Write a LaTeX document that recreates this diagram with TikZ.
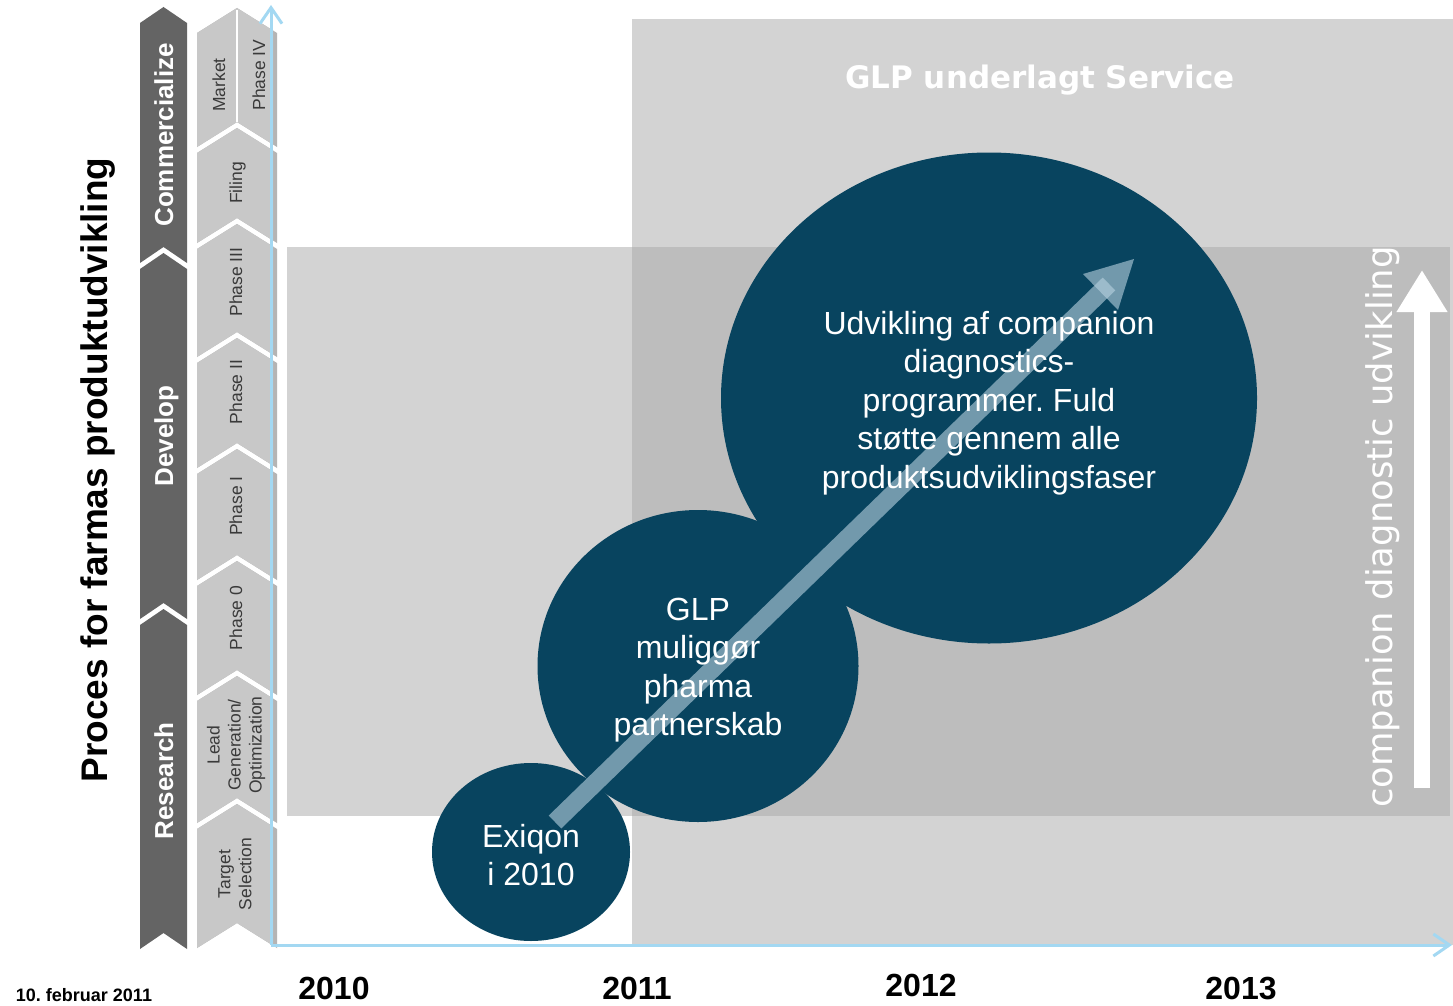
\documentclass[tikz,border=0pt]{standalone}
\usepackage{fontspec}
\setmainfont{Liberation Sans}
\newfontfamily\dvsans{DejaVu Sans}
\usetikzlibrary{shapes.geometric,arrows.meta}
\definecolor{navy}{HTML}{08445F}
\definecolor{lgray}{HTML}{D3D3D3}
\definecolor{mgray}{HTML}{BDBDBD}
\definecolor{dcol}{HTML}{646464}
\definecolor{lcol}{HTML}{C8C8C8}
\definecolor{lcoledge}{HTML}{B4B4B4}
\definecolor{axisblue}{HTML}{A3D8F2}
\definecolor{arrowlite}{HTML}{B9D3E0}
\definecolor{phasetext}{HTML}{3A3A3A}
\newcommand\chevblock[6]{\fill[#6] (#1,#3+#5) -- ({(#1+#2)/2},#3) -- (#2,#3+#5) -- (#2,#4+#5) -- ({(#1+#2)/2},#4) -- (#1,#4+#5) -- cycle;}
\frenchspacing
\begin{document}
\begin{tikzpicture}[x=1pt,y=-1pt,
  blob/.style={ellipse, fill=navy, inner sep=0pt},
  blobtext/.style={text=white, align=center, font=\fontsize{32}{38.5}\selectfont},
  darkchev/.style={fill=dcol},
  lightchev/.style={fill=lcol},
  stagelabel/.style={rotate=90, anchor=base, text=white, font=\bfseries\fontsize{26}{30}\selectfont},
  phaselabel/.style={rotate=90, text=phasetext, align=center, font=\fontsize{17.5}{21}\selectfont},
  yearlabel/.style={font=\bfseries\fontsize{32}{36}\selectfont},
  axisline/.style={draw=axisblue, line width=3pt, -{Straight Barb[length=16pt,width=22pt]}}
]
\useasboundingbox[fill=white] (0,0) rectangle (1453,1006);

% background panels
\fill[lgray] (632,19) rectangle (1453,945);
\fill[lgray] (287,247) rectangle (1450,816);
\fill[mgray] (632,247) rectangle (1450,816);

\node[anchor=base, text=white, font=\dvsans\bfseries\fontsize{31}{34}\selectfont] (glp) at (1040,89) {GLP underlagt Service};

% circles
\node[blob, minimum width=536, minimum height=491] (big) at (989,398) {};
\node[blob, minimum width=321, minimum height=312] (mid) at (698,666) {};
\node[blob, minimum width=198, minimum height=178] (small) at (531,852) {};

% diagonal arrow
\coordinate (ash0) at (555,822);
\coordinate (ash1) at (1109,284);
\coordinate (atip) at (1134,259);
\coordinate (abl) at (1083,274);
\coordinate (abr) at (1118,310);
\draw[arrowlite, opacity=0.6, line width=18] (ash0) -- (ash1);
\fill[arrowlite, opacity=0.6] (atip) -- (abl) -- (abr) -- cycle;

\node[blobtext] (bigtxt) at (989,403) {Udvikling af companion\\diagnostics-\\programmer. Fuld\\støtte gennem alle\\produktsudviklingsfaser};
\node[blobtext] (midtxt) at (698,670) {GLP\\muliggør\\pharma\\partnerskab};
\node[blobtext] (smalltxt) at (531,855) {Exiqon\\i 2010};

% right white arrow and label
\coordinate (wa0) at (1422,788);
\coordinate (wa1) at (1422,270);
\draw[white, line width=16, -{Triangle[length=42pt,width=48pt]}] (wa0) -- (wa1);
\node[rotate=90, anchor=base, text=white, font=\dvsans\fontsize{35.4}{40}\selectfont] (cdu) at (1392,527) {companion diagnostic udvikling};

% dark stage column
\chevblock{140}{187}{7}{247}{16}{darkchev}
\chevblock{140}{187}{253}{603}{16}{darkchev}
\chevblock{140}{187}{609}{933}{16}{darkchev}
\node[stagelabel] (comm) at (173,135) {Commercialize};
\node[stagelabel] (dev) at (173,436) {Develop};
\node[stagelabel] (res) at (173,781) {Research};

% light phase column (with darker right edge)
\chevblock{197}{277}{8}{122}{25}{lcoledge}
\chevblock{197}{277}{128}{218}{25}{lcoledge}
\chevblock{197}{277}{224}{332}{25}{lcoledge}
\chevblock{197}{277}{338}{443}{25}{lcoledge}
\chevblock{197}{277}{449}{555}{25}{lcoledge}
\chevblock{197}{277}{561}{670}{25}{lcoledge}
\chevblock{197}{277}{676}{798}{25}{lcoledge}
\chevblock{197}{277}{804}{923}{25}{lcoledge}
\begin{scope}
\clip (190,0) rectangle (273,1006);
\chevblock{197}{277}{8}{122}{25}{lightchev}
\chevblock{197}{277}{128}{218}{25}{lightchev}
\chevblock{197}{277}{224}{332}{25}{lightchev}
\chevblock{197}{277}{338}{443}{25}{lightchev}
\chevblock{197}{277}{449}{555}{25}{lightchev}
\chevblock{197}{277}{561}{670}{25}{lightchev}
\chevblock{197}{277}{676}{798}{25}{lightchev}
\chevblock{197}{277}{804}{923}{25}{lightchev}
\end{scope}
\draw[white, line width=2] (237,10) -- (237,122);

\node[phaselabel, anchor=base] (market) at (225,85) {Market};
\node[phaselabel, anchor=base] (p4) at (265,75) {Phase IV};
\node[phaselabel, anchor=base] (filing) at (242,183) {Filing};
\node[phaselabel, anchor=base] (p3) at (242,282) {Phase III};
\node[phaselabel, anchor=base] (p2) at (242,392) {Phase II};
\node[phaselabel, anchor=base] (p1) at (242,506) {Phase I};
\node[phaselabel, anchor=base] (p0) at (242,618) {Phase 0};
\node[phaselabel] (lead) at (236,745) {Lead\\Generation/\\Optimization};
\node[phaselabel] (target) at (235,874) {Target\\Selection};

% axes
\coordinate (origin) at (271,945);
\coordinate (ytop) at (271,5);
\coordinate (xend) at (1452,945);
\draw[axisline] (origin) -- (ytop);
\draw[axisline] (origin) -- (xend);

% title and footer
\node[rotate=90, anchor=base, font=\bfseries\fontsize{37}{40}\selectfont] (title) at (107,470) {Proces for farmas produktudvikling};
\node[font=\bfseries\fontsize{18}{20}\selectfont] (date) at (84,995) {10. februar 2011};
\node[yearlabel] (y2010) at (334,988) {2010};
\node[yearlabel] (y2011) at (637,988) {2011};
\node[yearlabel] (y2012) at (921,985) {2012};
\node[yearlabel] (y2013) at (1241,988) {2013};
\end{tikzpicture}
\end{document}
